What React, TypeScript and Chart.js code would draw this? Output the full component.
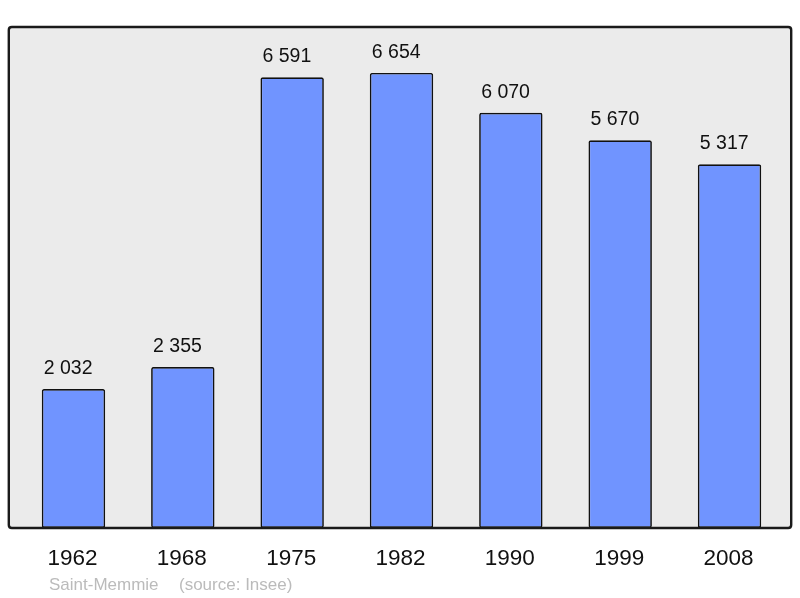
import { useEffect, useRef } from "react";
import { Chart, Plugin, registerables } from "chart.js";

Chart.register(...registerables);

const years = ["1962", "1968", "1975", "1982", "1990", "1999", "2008"];
const population = [2032, 2355, 6591, 6654, 6070, 5670, 5317];
const valueLabels = ["2 032", "2 355", "6 591", "6 654", "6 070", "5 670", "5 317"];
const townName = "Saint-Memmie";
const sourceText = "(source: Insee)";

const FONT = '"Liberation Sans", Arial, sans-serif';

function roundRect(ctx: CanvasRenderingContext2D, x: number, y: number, w: number, h: number, r: number) {
  ctx.beginPath();
  ctx.moveTo(x + r, y);
  ctx.lineTo(x + w - r, y);
  ctx.quadraticCurveTo(x + w, y, x + w, y + r);
  ctx.lineTo(x + w, y + h - r);
  ctx.quadraticCurveTo(x + w, y + h, x + w - r, y + h);
  ctx.lineTo(x + r, y + h);
  ctx.quadraticCurveTo(x, y + h, x, y + h - r);
  ctx.lineTo(x, y + r);
  ctx.quadraticCurveTo(x, y, x + r, y);
  ctx.closePath();
}

// grey panel behind the bars, frame on top of them
const panelPlugin: Plugin<"bar"> = {
  id: "panel",
  beforeDatasetsDraw(chart) {
    const { ctx, chartArea } = chart;
    ctx.save();
    roundRect(ctx, chartArea.left - 10, chartArea.top, chartArea.right - chartArea.left + 17, chartArea.bottom - chartArea.top, 3);
    ctx.fillStyle = "#ebebeb";
    ctx.fill();
    ctx.restore();
  },
  afterDatasetsDraw(chart) {
    const { ctx, chartArea } = chart;
    ctx.save();
    roundRect(ctx, chartArea.left - 10, chartArea.top, chartArea.right - chartArea.left + 17, chartArea.bottom - chartArea.top, 3);
    ctx.lineWidth = 2.4;
    ctx.strokeStyle = "#1a1a1a";
    ctx.stroke();
    ctx.restore();
  },
};

const labelsPlugin: Plugin<"bar"> = {
  id: "labels",
  afterDraw(chart) {
    const { ctx, chartArea } = chart;
    const meta = chart.getDatasetMeta(0);
    const xScale = chart.scales.x;
    ctx.save();
    ctx.textBaseline = "alphabetic";
    ctx.fillStyle = "#111";
    ctx.textAlign = "left";
    ctx.font = `19.5px ${FONT}`;
    meta.data.forEach((bar, i) => {
      const w = (bar as any).width as number;
      ctx.fillText(valueLabels[i], bar.x - w / 2 + 2, bar.y - 15);
    });
    ctx.textAlign = "center";
    ctx.font = `22.5px ${FONT}`;
    years.forEach((y, i) => {
      ctx.fillText(y, xScale.getPixelForValue(i) - 1, chartArea.bottom + 37);
    });
    ctx.textAlign = "left";
    ctx.fillStyle = "#bbbbbb";
    ctx.font = `17px ${FONT}`;
    ctx.fillText(townName, 49, 590);
    ctx.fillText(sourceText, 179, 590);
    ctx.restore();
  },
};

export default function App() {
  const canvasRef = useRef<HTMLCanvasElement>(null);
  const chartRef = useRef<Chart | null>(null);

  useEffect(() => {
    if (!canvasRef.current) return;
    if (chartRef.current) chartRef.current.destroy();

    chartRef.current = new Chart(canvasRef.current, {
      type: "bar",
      data: {
        labels: years,
        datasets: [
          {
            data: population,
            backgroundColor: "#7094ff",
            borderColor: "#111",
            borderWidth: 1.7,
            borderRadius: 2,
            borderSkipped: false,
            barPercentage: 0.58,
            categoryPercentage: 1,
          },
        ],
      },
      options: {
        animation: false,
        responsive: false,
        maintainAspectRatio: false,
        layout: { padding: { left: 18.8, right: 15.8, top: 27, bottom: 70 } },
        plugins: {
          legend: { display: false },
          tooltip: { enabled: false },
        },
        scales: {
          x: { display: false },
          y: { display: false, min: 0, max: 7325 },
        },
      },
      plugins: [panelPlugin, labelsPlugin],
    });

    return () => {
      if (chartRef.current) {
        chartRef.current.destroy();
        chartRef.current = null;
      }
    };
  }, []);

  return (
    <div style={{ position: "fixed", left: 0, top: 0, width: 800, height: 598, background: "#fff" }}>
      <canvas ref={canvasRef} width={800} height={598} style={{ width: 800, height: 598 }} />
    </div>
  );
}
